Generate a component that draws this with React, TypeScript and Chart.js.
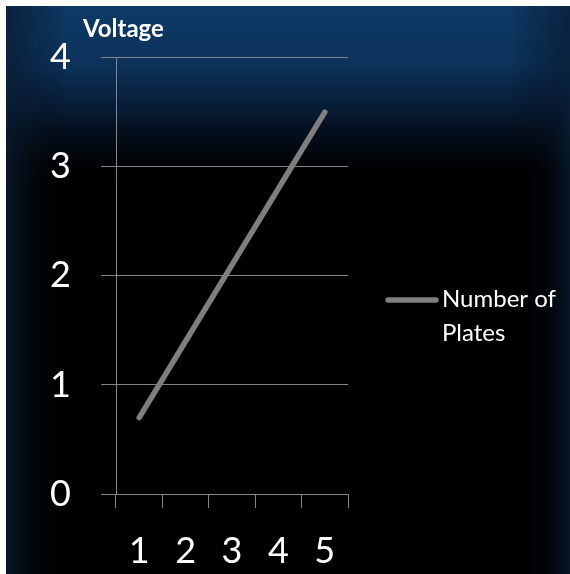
import React, { useEffect, useRef } from "react";
import { Chart, registerables } from "chart.js";

Chart.register(...registerables);

const categories: string[] = ["1", "2", "3", "4", "5"];
const voltageValues: number[] = [0.7, 1.4, 2.1, 2.8, 3.5];
const seriesLabel = "Number of Plates";
const chartTitle = "Voltage";
const yTickValues: number[] = [0, 1, 2, 3, 4];

const W = 564;
const H = 568;
const FONT = "Lato, 'Open Sans', sans-serif";
const GRID = "#858585";
const LINE = "#7f7f7f";

const bgPlugin = {
  id: "bg",
  beforeDraw(chart: any) {
    const ctx = chart.ctx as CanvasRenderingContext2D;
    const w = chart.width;
    const h = chart.height;
    ctx.save();
    ctx.fillStyle = "#000000";
    ctx.fillRect(0, 0, w, h);
    // top blue band
    const gt = ctx.createLinearGradient(0, 0, 0, 180);
    gt.addColorStop(0, "rgba(13,58,102,1)");
    gt.addColorStop(0.33, "rgba(12,50,90,1)");
    gt.addColorStop(0.58, "rgba(8,32,60,0.85)");
    gt.addColorStop(0.8, "rgba(5,15,30,0.5)");
    gt.addColorStop(1, "rgba(0,0,0,0)");
    ctx.fillStyle = gt;
    ctx.fillRect(0, 0, w, 180);
    // left edge glow
    const gl = ctx.createLinearGradient(0, 0, 60, 0);
    gl.addColorStop(0, "rgba(10,28,50,0.75)");
    gl.addColorStop(0.5, "rgba(8,20,38,0.3)");
    gl.addColorStop(1, "rgba(0,0,0,0)");
    ctx.fillStyle = gl;
    ctx.fillRect(0, 0, 60, h);
    // right edge glow
    const gr = ctx.createLinearGradient(w - 60, 0, w, 0);
    gr.addColorStop(0, "rgba(0,0,0,0)");
    gr.addColorStop(0.6, "rgba(5,15,30,0.3)");
    gr.addColorStop(1, "rgba(8,30,54,0.75)");
    ctx.fillStyle = gr;
    ctx.fillRect(w - 60, 0, 60, h);
    ctx.restore();
  },
};

const textPlugin = {
  id: "texts",
  afterDraw(chart: any) {
    const ctx = chart.ctx as CanvasRenderingContext2D;
    ctx.save();
    ctx.fillStyle = "#ffffff";
    ctx.textBaseline = "alphabetic";
    ctx.textAlign = "left";
    ctx.font = `bold 24px ${FONT}`;
    ctx.fillText(chartTitle, 77, 31);

    const ds = chart.data.datasets[0];
    const ly = 294;
    ctx.strokeStyle = ds.borderColor;
    ctx.lineWidth = 5.5;
    ctx.lineCap = "round";
    ctx.beginPath();
    ctx.moveTo(382, ly);
    ctx.lineTo(430, ly);
    ctx.stroke();

    ctx.font = `24px ${FONT}`;
    const maxW = 124;
    const words = String(ds.label).split(" ");
    const lines: string[] = [];
    let cur = "";
    for (const w of words) {
      const t = cur ? cur + " " + w : w;
      if (ctx.measureText(t).width > maxW && cur) {
        lines.push(cur);
        cur = w;
      } else cur = t;
    }
    if (cur) lines.push(cur);
    lines.forEach((l, i) => ctx.fillText(l, 436, 301 + i * 34));
    ctx.restore();
  },
};

export default function App() {
  const ref = useRef<HTMLCanvasElement | null>(null);
  useEffect(() => {
    if (!ref.current) return;
    const chart = new Chart(ref.current, {
      type: "line",
      data: {
        labels: categories,
        datasets: [
          {
            label: seriesLabel,
            data: voltageValues,
            borderColor: LINE,
            backgroundColor: LINE,
            borderWidth: 5.5,
            borderCapStyle: "round",
            borderJoinStyle: "round",
            pointRadius: 0,
            tension: 0,
          },
        ],
      },
      options: {
        responsive: false,
        animation: false,
        layout: { padding: { left: 0, top: 50, right: 222, bottom: 0 } },
        plugins: {
          legend: { display: false },
          title: { display: false },
          tooltip: { enabled: false },
        },
        scales: {
          x: {
            offset: true,
            grid: {
              display: true,
              offset: true,
              drawOnChartArea: false,
              drawTicks: true,
              tickLength: 14,
              color: GRID,
              lineWidth: 1,
            },
            border: { display: true, color: GRID, width: 1 },
            ticks: {
              color: "#ffffff",
              font: { family: FONT, size: 36 },
              padding: 22,
              maxRotation: 0,
            },
            afterFit(scale: any) {
              scale.height = 80;
            },
          },
          y: {
            min: 0,
            max: 4,
            afterBuildTicks(scale: any) {
              scale.ticks = yTickValues.map((v) => ({ value: v }));
            },
            grid: {
              display: true,
              drawOnChartArea: true,
              drawTicks: true,
              tickLength: 15,
              color: GRID,
              lineWidth: 1,
            },
            border: { display: true, color: GRID, width: 1 },
            ticks: {
              color: "#ffffff",
              font: { family: FONT, size: 36 },
              padding: 30,
            },
            afterFit(scale: any) {
              scale.width = 110;
            },
          },
        },
      },
      plugins: [bgPlugin, textPlugin],
    } as any);
    return () => chart.destroy();
  }, []);
  return (
    <div style={{ position: "absolute", left: 6, top: 6, width: W, height: H }}>
      <canvas ref={ref} width={W} height={H} style={{ width: W, height: H, display: "block" }} />
    </div>
  );
}
